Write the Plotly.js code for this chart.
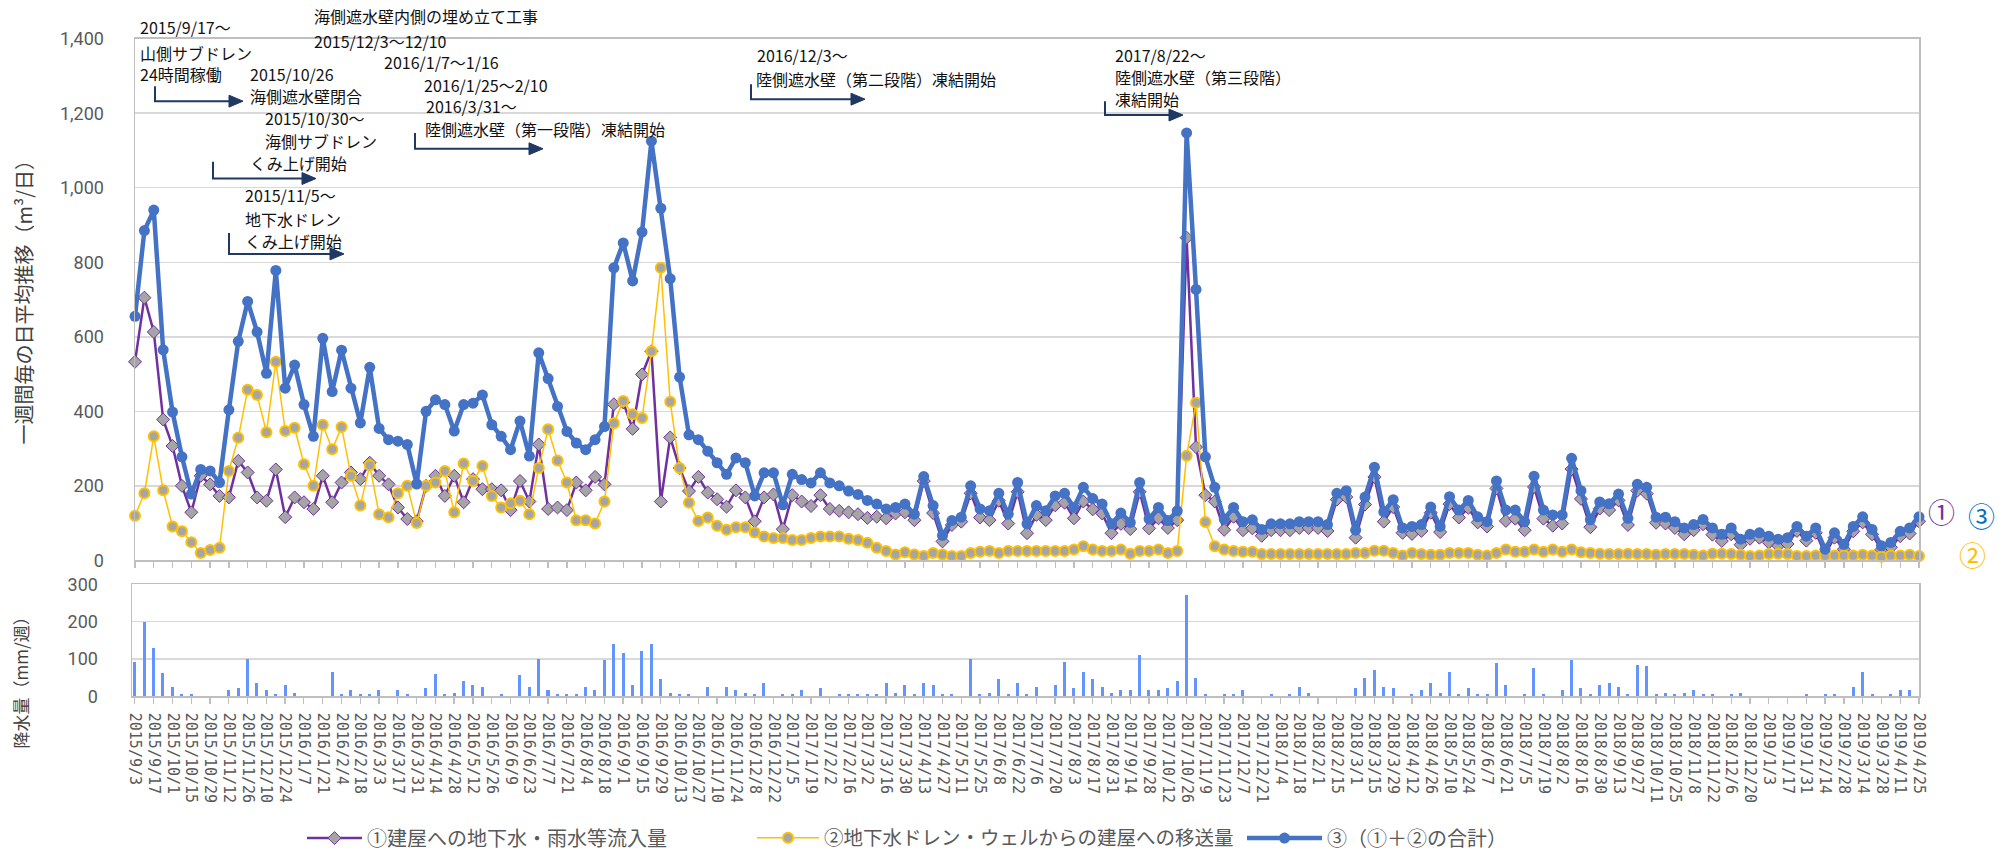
<!DOCTYPE html>
<html>
<head>
<meta charset="utf-8">
<script src="https://cdn.plot.ly/plotly-3.0.1.min.js"></script>
<style>html,body{margin:0;padding:0;background:#fff}#chart{width:2011px;height:858px}</style>
</head>
<body>
<div id="chart"></div>
<script>
// x-axis tick labels (every 2 weeks, weekly data from 2015/9/3 to 2019/4/25)
const tickLabels = [
 '2015/9/3','2015/9/17','2015/10/1','2015/10/15','2015/10/29','2015/11/12','2015/11/26','2015/12/10','2015/12/24',
 '2016/1/7','2016/1/21','2016/2/4','2016/2/18','2016/3/3','2016/3/17','2016/3/31','2016/4/14','2016/4/28','2016/5/12','2016/5/26','2016/6/9','2016/6/23','2016/7/7','2016/7/21','2016/8/4','2016/8/18','2016/9/1','2016/9/15','2016/9/29','2016/10/13','2016/10/27','2016/11/10','2016/11/24','2016/12/8','2016/12/22',
 '2017/1/5','2017/1/19','2017/2/2','2017/2/16','2017/3/2','2017/3/16','2017/3/30','2017/4/13','2017/4/27','2017/5/11','2017/5/25','2017/6/8','2017/6/22','2017/7/6','2017/7/20','2017/8/3','2017/8/17','2017/8/31','2017/9/14','2017/9/28','2017/10/12','2017/10/26','2017/11/9','2017/11/23','2017/12/7','2017/12/21',
 '2018/1/4','2018/1/18','2018/2/1','2018/2/15','2018/3/1','2018/3/15','2018/3/29','2018/4/12','2018/4/26','2018/5/10','2018/5/24','2018/6/7','2018/6/21','2018/7/5','2018/7/19','2018/8/2','2018/8/16','2018/8/30','2018/9/13','2018/9/27','2018/10/11','2018/10/25','2018/11/8','2018/11/22','2018/12/6','2018/12/20',
 '2019/1/3','2019/1/17','2019/1/31','2019/2/14','2019/2/28','2019/3/14','2019/3/28','2019/4/11','2019/4/25'
];

// ① 建屋への地下水・雨水等流入量 (m3/日)
const inflow = [
 533,705,613,378,307,200,129,227,204,173,
 169,267,236,169,160,244,116,169,156,138,
 227,156,209,236,218,262,227,204,142,111,
 105,200,227,173,227,156,218,191,191,188,
 135,213,158,311,138,142,135,209,188,224,
 204,419,424,353,499,561,158,330,248,186,
 224,182,164,144,188,169,105,169,177,84,
 175,158,146,175,138,133,129,124,114,117,
 113,126,129,108,213,127,51,95,104,180,
 115,108,160,99,184,73,122,108,148,155,
 113,158,137,126,73,98,84,184,86,113,
 87,108,866,304,175,158,82,117,81,86,
 66,81,81,81,87,87,87,79,163,170,
 61,150,224,104,143,74,71,79,128,76,
 151,115,141,102,91,193,106,112,81,197,
 112,93,99,245,165,89,139,135,161,95,
 187,179,101,99,87,70,81,97,69,52,
 70,42,58,61,48,39,44,79,53,74,
 18,61,30,78,102,70,29,35,65,72,
 105
];

// ② 地下水ドレン・ウェルからの建屋への移送量 (m3/日)
const transfer = [
 120,180,333,188,91,78,49,20,28,34,
 240,329,458,444,344,533,347,356,258,200,
 364,298,358,227,147,255,124,116,180,200,
 100,200,209,240,129,260,213,253,173,142,
 153,160,124,248,352,268,209,108,108,99,
 158,368,428,392,382,561,785,426,248,155,
 106,115,93,82,89,89,75,64,60,60,
 55,55,60,64,64,64,58,55,47,34,
 25,16,22,16,12,20,16,12,12,20,
 23,25,20,25,25,25,25,25,25,25,
 29,38,29,25,25,29,18,25,25,29,
 20,25,281,423,103,38,29,25,23,23,
 17,17,17,17,17,17,17,17,17,17,
 20,20,26,26,20,13,20,17,15,15,
 20,20,20,15,13,20,29,23,23,29,
 23,29,23,29,22,20,18,17,17,18,
 17,17,15,17,17,17,15,13,18,18,
 17,15,12,13,17,18,17,12,12,13,
 12,13,13,13,15,13,10,13,13,15,
 12
];

// ③ (①+②の合計) (m3/日)
const total = [
 655,885,940,565,398,278,178,244,240,209,
 404,588,695,613,502,778,462,524,418,333,
 596,453,564,462,369,518,354,324,320,311,
 205,400,431,418,347,418,422,444,364,333,
 297,374,280,557,488,413,346,315,297,324,
 359,785,852,750,881,1125,945,756,492,337,
 324,293,262,231,275,262,173,235,235,149,
 231,217,208,235,208,200,186,177,161,151,
 138,142,151,124,225,147,67,107,116,200,
 138,133,180,124,209,98,147,133,173,180,
 142,196,166,151,98,127,102,209,111,142,
 107,133,1147,727,278,196,111,142,104,109,
 83,98,98,98,104,104,104,96,180,187,
 81,170,250,130,163,87,91,96,143,91,
 171,135,161,117,104,213,135,135,104,226,
 135,122,122,274,187,109,157,152,178,113,
 204,196,116,116,104,87,96,110,87,70,
 87,57,70,74,65,57,61,91,65,87,
 30,74,43,91,117,83,39,48,78,87,
 117
];

// 降水量 (mm/週)
const rainfall = [
 92,198,130,61,25,5,5,0,0,0,
 16,21,101,36,16,5,30,10,0,0,
 0,65,5,16,5,5,16,0,16,5,
 0,21,60,5,10,40,30,25,0,5,
 0,56,25,100,16,5,5,5,25,16,
 96,140,116,30,121,140,46,10,5,5,
 0,25,0,25,16,10,5,36,0,5,
 5,16,0,21,0,5,5,5,5,5,
 36,10,30,5,36,30,5,5,0,101,
 5,10,46,5,36,5,25,0,30,91,
 21,65,46,25,10,16,16,110,16,16,
 21,40,272,50,5,0,5,5,16,0,
 0,5,0,5,25,10,0,0,0,0,
 21,50,71,25,21,0,5,16,36,10,
 65,5,21,5,5,90,30,0,5,75,
 5,0,16,96,21,5,30,36,25,5,
 85,81,5,10,5,10,16,5,5,0,
 5,10,0,0,0,0,0,0,5,0,
 5,5,0,25,65,5,0,5,16,16,
 0
];

const seriesNames = ['①建屋への地下水・雨水等流入量','②地下水ドレン・ウェルからの建屋への移送量','③（①＋②の合計）'];

const weeks = total.map((_, i) => i);
const tickPos = tickLabels.map((_, i) => i * 2);

const W = 2011, H = 858;
const fx = x => x / W, fy = y => 1 - y / H;

const JP = 'Noto Sans CJK JP';

const traces = [
  {type:'bar', x:weeks, y:rainfall, xaxis:'x2', yaxis:'y2', width:0.32,
   marker:{color:'#6495FF'}, showlegend:false, hoverinfo:'skip'},
  {type:'scatter', mode:'lines+markers', name:seriesNames[0], x:weeks, y:inflow, legend:'legend',
   line:{color:'#7030A0', width:2.5}, cliponaxis:false,
   marker:{symbol:'diamond', size:10, color:'#A5A5A5', line:{color:'#7030A0', width:1}}},
  {type:'scatter', mode:'lines+markers', name:seriesNames[1], x:weeks, y:transfer, legend:'legend2',
   line:{color:'#FFC000', width:1.5}, cliponaxis:false,
   marker:{symbol:'circle', size:10, color:'#A5A5A5', line:{color:'#FFC000', width:2}}},
  {type:'scatter', mode:'lines+markers', name:seriesNames[2], x:weeks, y:total, legend:'legend3',
   line:{color:'#4472C4', width:4.5}, cliponaxis:false,
   marker:{symbol:'circle', size:11, color:'#4472C4'}}
];

const notes = [
  ['2015/9/17～',138,27], ['山側サブドレン',138,53], ['24時間稼働',138,75],
  ['2015/10/26',248,75], ['海側遮水壁閉合',248,97],
  ['2015/10/30～',263,119], ['海側サブドレン',263,142], ['くみ上げ開始',248,164],
  ['2015/11/5～',243,197], ['地下水ドレン',243,221], ['くみ上げ開始',243,243],
  ['海側遮水壁内側の埋め立て工事',312,16], ['2015/12/3～12/10',312,41],
  ['2016/1/7～1/16',382,63], ['2016/1/25～2/10',422,86], ['2016/3/31～',424,107],
  ['陸側遮水壁（第一段階）凍結開始',423,130],
  ['2016/12/3～',755,55], ['陸側遮水壁（第二段階）凍結開始',754,80],
  ['2017/8/22～',1113,55], ['陸側遮水壁（第三段階）',1113,78], ['凍結開始',1113,100]
];

const annotations = notes.map(([t, x, y]) => ({
  text:t, x:fx(x), y:fy(y), xref:'paper', yref:'paper', xanchor:'left', yanchor:'middle',
  showarrow:false, font:{family:JP, size:16, color:'#111111'}
}));

annotations.push(
  {text:'一週間毎の日平均推移（m³/日）', x:fx(24), y:fy(300), xref:'paper', yref:'paper', textangle:-90,
   xanchor:'center', yanchor:'middle', showarrow:false, font:{family:JP, size:20, color:'#404040'}},
  {text:'降水量（mm/週）', x:fx(20), y:fy(684), xref:'paper', yref:'paper', textangle:-90,
   xanchor:'center', yanchor:'middle', showarrow:false, font:{family:JP, size:17, color:'#404040'}},
  {text:'①', x:fx(1941), y:fy(516), xref:'paper', yref:'paper', xanchor:'center', yanchor:'middle',
   showarrow:false, borderpad:0, font:{family:JP, size:27, color:'#7030A0'}},
  {text:'③', x:fx(1981), y:fy(520), xref:'paper', yref:'paper', xanchor:'center', yanchor:'middle',
   showarrow:false, borderpad:0, font:{family:JP, size:27, color:'#0070C0'}},
  {text:'②', x:fx(1972), y:fy(559), xref:'paper', yref:'paper', xanchor:'center', yanchor:'middle',
   showarrow:false, borderpad:0, font:{family:JP, size:27, color:'#FFC000'}}
);

const arrowColor = '#1F3864';
const arrows = [[155,87,102,243],[213,163,180,316],[229,235,256,344],[415,134,150,543],[751,85,100,865],[1105,102,116,1183]];
const shapes = [];
arrows.forEach(([xv, y0, y1, xt]) => {
  shapes.push({type:'path', xref:'paper', yref:'paper',
    path:`M${fx(xv)},${fy(y0)} L${fx(xv)},${fy(y1)} L${fx(xt-10)},${fy(y1)}`,
    line:{color:arrowColor, width:2}});
  shapes.push({type:'path', xref:'paper', yref:'paper',
    path:`M${fx(xt-14)},${fy(y1-6)} L${fx(xt)},${fy(y1)} L${fx(xt-14)},${fy(y1+6)} Z`,
    fillcolor:arrowColor, line:{color:arrowColor, width:1}});
});

const legendBase = {orientation:'h', xanchor:'left', yanchor:'middle', y:fy(845),
  font:{family:JP, size:20, color:'#595959'}, bgcolor:'rgba(0,0,0,0)', borderwidth:0};

const axisLine = {showline:true, linecolor:'#BFBFBF', linewidth:1.5, mirror:true, zeroline:false};

const layout = {
  width:W, height:H, autosize:false,
  margin:{l:0, r:0, t:0, b:0},
  paper_bgcolor:'#ffffff', plot_bgcolor:'#ffffff',
  showlegend:true,
  legend:Object.assign({}, legendBase, {x:fx(302), itemwidth:55}),
  legend2:Object.assign({}, legendBase, {x:fx(752), itemwidth:62,
    font:{family:JP, size:19.5, color:'#595959'}}),
  legend3:Object.assign({}, legendBase, {x:fx(1242), itemwidth:75}),
  xaxis:Object.assign({domain:[fx(135), fx(1919)], range:[0,190], anchor:'y',
    tickmode:'array', tickvals:tickPos, showticklabels:false,
    ticks:'outside', ticklen:6, tickcolor:'#BFBFBF', tickwidth:1.3, showgrid:false}, axisLine),
  yaxis:Object.assign({domain:[fy(565), fy(39)], range:[0,1400], dtick:200, tickformat:',d', anchor:'x',
    showgrid:true, gridcolor:'#D9D9D9', gridwidth:1.5, ticks:'', ticklabelstandoff:26,
    tickfont:{family:'Roboto', size:18, color:'#595959'}}, axisLine),
  xaxis2:Object.assign({domain:[fx(132), fx(1919)], range:[-0.3,190], anchor:'y2',
    tickmode:'array', tickvals:tickPos, ticktext:tickLabels, tickangle:90,
    ticks:'outside', ticklen:6, tickcolor:'#BFBFBF', tickwidth:1.3, showgrid:false,
    ticklabelstandoff:6, tickfont:{family:'DejaVu Sans Mono', size:15, color:'#595959'}}, axisLine),
  yaxis2:Object.assign({domain:[fy(702), fy(589)], range:[0,300], dtick:100, anchor:'x2',
    showgrid:true, gridcolor:'#D9D9D9', gridwidth:1.5, ticks:'', ticklabelstandoff:29,
    tickfont:{family:'Roboto', size:18, color:'#595959'}}, axisLine),
  annotations:annotations,
  shapes:shapes,
  bargap:0
};

Plotly.newPlot('chart', traces, layout, {staticPlot:true, displayModeBar:false});
</script>
</body>
</html>
